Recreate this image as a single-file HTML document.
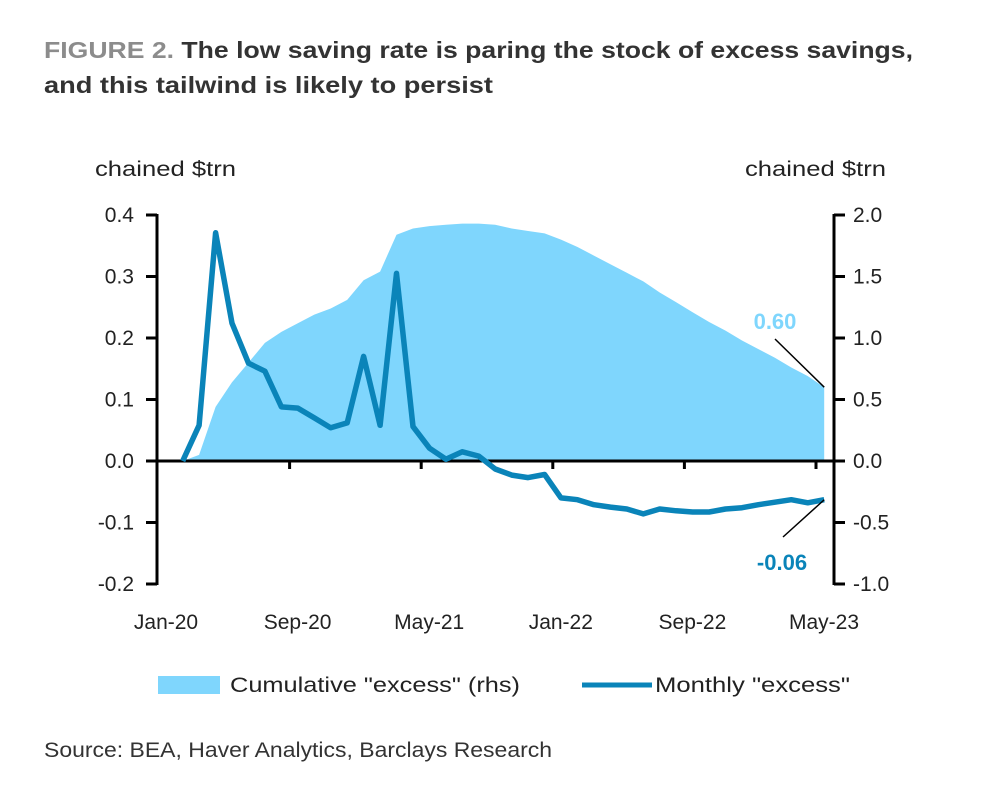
<!DOCTYPE html>
<html><head><meta charset="utf-8"><style>
body{margin:0;background:#fff}
svg{display:block;font-family:"Liberation Sans",sans-serif}
</style></head><body>
<svg width="1000" height="804" viewBox="0 0 1000 804">
<text x="44" y="58" font-size="23" font-weight="bold" fill="#333" textLength="869" lengthAdjust="spacingAndGlyphs"><tspan fill="#8c8c8c">FIGURE 2.</tspan> The low saving rate is paring the stock of excess savings,</text>
<text x="44" y="93" font-size="23" font-weight="bold" fill="#333" textLength="449" lengthAdjust="spacingAndGlyphs">and this tailwind is likely to persist</text>
<text x="95" y="176" font-size="21" fill="#222" textLength="141" lengthAdjust="spacingAndGlyphs">chained $trn</text>
<text x="745" y="176" font-size="21" fill="#222" textLength="141" lengthAdjust="spacingAndGlyphs">chained $trn</text>
<g id="plot"></g>
<rect x="158" y="676" width="62" height="18" fill="#7fd6fd"/>
<text x="230" y="692" font-size="21" fill="#222" textLength="290" lengthAdjust="spacingAndGlyphs">Cumulative "excess" (rhs)</text>
<line x1="582" y1="685" x2="652" y2="685" stroke="#0a84b9" stroke-width="5"/>
<text x="655" y="692" font-size="21" fill="#222" textLength="195" lengthAdjust="spacingAndGlyphs">Monthly "excess"</text>
<text x="44" y="757" font-size="21" fill="#333" textLength="508" lengthAdjust="spacingAndGlyphs">Source: BEA, Haver Analytics, Barclays Research</text>
</svg>
<script>
const xLabels=["Jan-20","Sep-20","May-21","Jan-22","Sep-22","May-23"];
const leftTicks=[0.4,0.3,0.2,0.1,0.0,-0.1,-0.2];
const rightTicks=[2.0,1.5,1.0,0.5,0.0,-0.5,-1.0];
const monthly=[null,0.0,0.058,0.371,0.224,0.159,0.146,0.088,0.086,0.07,0.054,0.062,0.17,0.058,0.305,0.056,0.021,0.003,0.015,0.008,-0.013,-0.023,-0.027,-0.022,-0.06,-0.063,-0.071,-0.075,-0.078,-0.086,-0.078,-0.081,-0.083,-0.083,-0.078,-0.076,-0.071,-0.067,-0.063,-0.068,-0.063];
const cumulative=[null,0.0,0.05,0.44,0.64,0.8,0.96,1.05,1.12,1.19,1.24,1.31,1.47,1.54,1.84,1.89,1.91,1.92,1.93,1.93,1.92,1.89,1.87,1.85,1.8,1.74,1.67,1.6,1.53,1.46,1.37,1.29,1.21,1.13,1.06,0.98,0.91,0.84,0.76,0.69,0.60];
const NS="http://www.w3.org/2000/svg";
const g=document.getElementById('plot');
const X0=158,DX=16.45,Y0=461;
const xm=i=>X0+DX*(i+0.5);
const xt=i=>X0+DX*i;
const yl=v=>Y0-v*615;
const yr=v=>Y0-v*123;
function mk(t,a){const e=document.createElementNS(NS,t);for(const k in a)e.setAttribute(k,a[k]);g.appendChild(e);return e;}
let pts=[];let first=-1,last=-1;
cumulative.forEach((v,i)=>{if(v!==null){if(first<0)first=i;last=i;pts.push(xm(i).toFixed(1)+","+yr(v).toFixed(1));}});
pts.unshift(xm(first).toFixed(1)+","+yr(0));pts.push(xm(last).toFixed(1)+","+yr(0));
const area=mk('polygon',{points:pts.join(' '),fill:'#7fd6fd'});


const la=mk('line',{x1:157,y1:214,x2:157,y2:585,stroke:'#000','stroke-width':3});


const ra=mk('line',{x1:834,y1:214,x2:834,y2:585,stroke:'#000','stroke-width':3});


const xa=mk('line',{x1:157,y1:Y0,x2:834,y2:Y0,stroke:'#000','stroke-width':3});


leftTicks.forEach(v=>{const y=yl(v);
 const t=mk('line',{x1:146,y1:y,x2:157,y2:y,stroke:'#000','stroke-width':3});
 
 
 const l=mk('text',{x:134,y:y+7,'font-size':21,'text-anchor':'end',fill:'#222'});l.textContent=v.toFixed(1);
 
 });
rightTicks.forEach(v=>{const y=yr(v);
 const t=mk('line',{x1:834,y1:y,x2:845,y2:y,stroke:'#000','stroke-width':3});
 
 
 const l=mk('text',{x:853,y:y+7,'font-size':21,fill:'#222'});l.textContent=v.toFixed(1);
 
 });
xLabels.forEach((s,k)=>{const x=xt(k*8);
 if(k>0){const t=mk('line',{x1:x,y1:Y0,x2:x,y2:Y0+8,stroke:'#000','stroke-width':3});
 
 }
 const l=mk('text',{x:x+8,y:629,'font-size':21,'text-anchor':'middle',fill:'#222'});l.textContent=s;
 
 });
let lp=[];monthly.forEach((v,i)=>{if(v!==null)lp.push(xm(i).toFixed(1)+","+yl(v).toFixed(1));});
const ln=mk('polyline',{points:lp.join(' '),fill:'none',stroke:'#0a84b9','stroke-width':5.5,'stroke-linejoin':'round'});


const n=cumulative.length-1;
const a1=mk('line',{x1:775,y1:339,x2:xm(n),y2:yr(cumulative[n]),stroke:'#000','stroke-width':1.5});


const t1=mk('text',{x:775,y:329,'font-size':22,'font-weight':'bold','text-anchor':'middle',fill:'#7fd6fd'});t1.textContent=cumulative[n].toFixed(2);


const a2=mk('line',{x1:783,y1:537,x2:xm(n),y2:yl(monthly[n]),stroke:'#000','stroke-width':1.5});


const t2=mk('text',{x:782,y:570,'font-size':22,'font-weight':'bold','text-anchor':'middle',fill:'#0a84b9'});t2.textContent=monthly[n].toFixed(2);


</script>
</body></html>
